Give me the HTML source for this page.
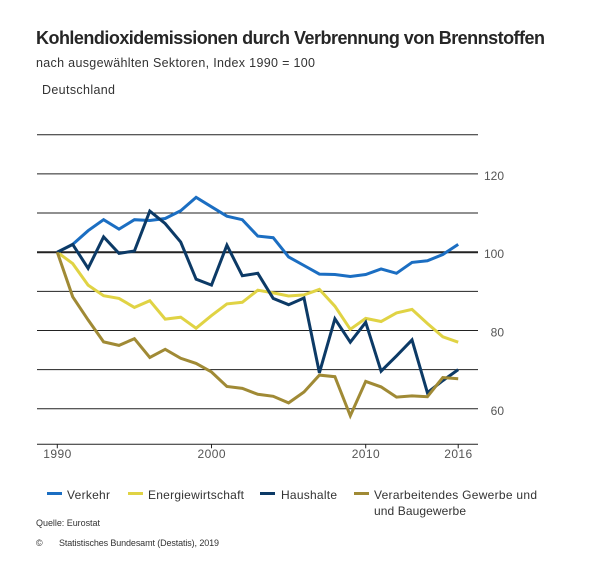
<!DOCTYPE html>
<html lang="de">
<head>
<meta charset="utf-8">
<title>Kohlendioxidemissionen durch Verbrennung von Brennstoffen</title>
<style>
html,body{margin:0;padding:0;background:#fff;}
body{width:600px;height:576px;overflow:hidden;}
svg{display:block;font-family:"Liberation Sans",sans-serif;}
</style>
</head>
<body>
<svg id="chart" width="600" height="576" viewBox="0 0 600 576" xmlns="http://www.w3.org/2000/svg">
<rect x="0" y="0" width="600" height="576" fill="#ffffff"/>
<text x="36" y="44" font-size="18" font-weight="700" fill="#262626" textLength="509" lengthAdjust="spacing">Kohlendioxidemissionen durch Verbrennung von Brennstoffen</text>
<text x="36" y="67" font-size="12.5" fill="#333" textLength="279" lengthAdjust="spacing">nach ausgewählten Sektoren, Index 1990 = 100</text>
<text x="42" y="94" font-size="12.5" fill="#333" textLength="73" lengthAdjust="spacing">Deutschland</text>
<g id="grid"></g>
<g id="series"></g>
<g id="yaxis"></g>
<g id="xaxis"></g>

<g>
<g>
<rect x="47" y="492" width="15" height="3" fill="#1b6ec2"/>
<text x="67" y="499" font-size="12" fill="#333" textLength="43" lengthAdjust="spacing">Verkehr</text>
</g>
<g>
<rect x="128" y="492" width="15" height="3" fill="#e0d344"/>
<text x="148" y="499" font-size="12" fill="#333" textLength="96" lengthAdjust="spacing">Energiewirtschaft</text>
</g>
<g>
<rect x="260" y="492" width="15" height="3" fill="#0c3a66"/>
<text x="281" y="499" font-size="12" fill="#333" textLength="56" lengthAdjust="spacing">Haushalte</text>
</g>
<g>
<rect x="354" y="492" width="15" height="3" fill="#a08a35"/>
<text x="374" y="499" font-size="12" fill="#333" textLength="163" lengthAdjust="spacing">Verarbeitendes Gewerbe und</text>
<text x="374" y="515" font-size="12" fill="#333" textLength="92" lengthAdjust="spacing">und Baugewerbe</text>
</g>
</g>
<text x="36" y="526" font-size="9" fill="#333" textLength="64" lengthAdjust="spacing">Quelle: Eurostat</text>
<text x="36" y="546" font-size="9" fill="#333">©</text>
<text x="59" y="546" font-size="9" fill="#333" textLength="160" lengthAdjust="spacing">Statistisches Bundesamt (Destatis), 2019</text>
</svg>
<script>
var years = [1990,1991,1992,1993,1994,1995,1996,1997,1998,1999,2000,2001,2002,2003,2004,2005,2006,2007,2008,2009,2010,2011,2012,2013,2014,2015,2016];
var verkehr = [100,102,105.5,108.3,105.9,108.3,108.1,108.6,110.6,114,111.6,109.2,108.3,104.1,103.7,98.8,96.6,94.4,94.3,93.8,94.3,95.7,94.6,97.4,97.8,99.4,102];
var energiewirtschaft = [100,97.1,91.6,88.9,88.2,85.9,87.6,82.9,83.4,80.6,83.8,86.8,87.2,90.3,89.6,88.8,89.1,90.5,86.2,80.3,83.1,82.3,84.5,85.4,81.8,78.4,77];
var haushalte = [100,102,95.9,103.9,99.7,100.3,110.5,107.3,102.6,93.1,91.6,101.8,94,94.6,88.2,86.6,88.3,69.2,83,77,82.1,69.6,73.5,77.6,64.1,67.2,70];
var gewerbe = [100,88.6,82.7,77.1,76.2,77.9,73.1,75.2,72.9,71.6,69.4,65.7,65.2,63.7,63.2,61.5,64.3,68.6,68.2,58.2,67,65.6,63,63.3,63.1,68,67.7];
var gridValues = [130,120,110,100,90,80,70,60];
var yTickLabels = [120,100,80,60];
var xTickLabels = [1990,2000,2010,2016];

var NS = 'http://www.w3.org/2000/svg';
function xScale(year){ return 57.3 + (year - 1990) * 15.42; }
function yScale(value){ return 252.2 - (value - 100) * 3.915; }
function make(tag, parent, attrs){
  var el = document.createElementNS(NS, tag);
  for (var k in attrs) el.setAttribute(k, attrs[k]);
  parent.appendChild(el);
  return el;
}

var grid = document.getElementById('grid');
gridValues.forEach(function(v){
  var line = make('line', grid, {x1:37, x2:478, y1:yScale(v), y2:yScale(v), stroke:'#222', 'stroke-width': v === 100 ? 2 : 1});
  
  
});

var xaxis = document.getElementById('xaxis');
var baseY = 444.3;
var axisLine = make('line', xaxis, {x1:37, x2:478, y1:baseY, y2:baseY, stroke:'#222', 'stroke-width':1});


xTickLabels.forEach(function(y){
  var tick = make('line', xaxis, {x1:xScale(y), x2:xScale(y), y1:baseY, y2:baseY + 4, stroke:'#222', 'stroke-width':1});
  
  
  var label = make('text', xaxis, {x:xScale(y), y:458, 'text-anchor':'middle', 'font-size':12, fill:'#555', textLength:28, lengthAdjust:'spacing'});
  
  
  label.textContent = y;
});

var yaxis = document.getElementById('yaxis');
yTickLabels.forEach(function(v){
  var label = make('text', yaxis, {x:504, y:yScale(v) + 6, 'text-anchor':'end', 'font-size':12, fill:'#555'});
  
  
  label.textContent = v;
});

function drawSeries(values, color, name){
  var pts = values.map(function(v, i){ return xScale(years[i]).toFixed(1) + ',' + yScale(v).toFixed(1); }).join(' ');
  var line = make('polyline', document.getElementById('series'), {points:pts, fill:'none', stroke:color, 'stroke-width':3, 'stroke-linejoin':'miter', 'stroke-miterlimit':4});
  
  
}
drawSeries(verkehr, '#1b6ec2', 'line-verkehr');
drawSeries(energiewirtschaft, '#e0d344', 'line-energiewirtschaft');
drawSeries(haushalte, '#0c3a66', 'line-haushalte');
drawSeries(gewerbe, '#a08a35', 'line-verarbeitendes-gewerbe');
</script>
</body>
</html>
